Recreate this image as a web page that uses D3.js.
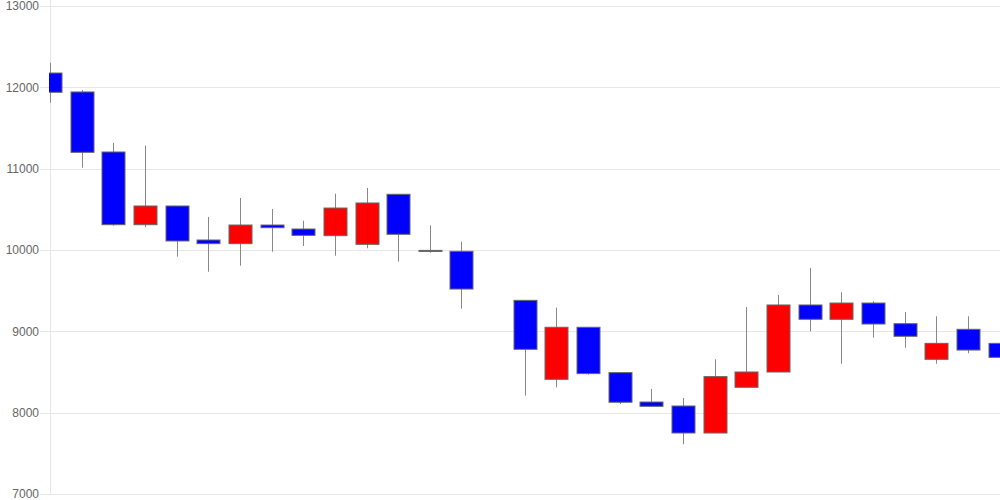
<!DOCTYPE html>
<html>
<head>
<meta charset="utf-8">
<script src="https://cdn.jsdelivr.net/npm/d3@7"></script>
<style>
html,body{margin:0;padding:0;background:#fff;}
svg{display:block;}
</style>
</head>
<body>
<svg id="chart" width="1000" height="500"></svg>
<script>
const days = ["D01","D02","D03","D04","D05","D06","D07","D08","D09","D10","D11","D12","D13","D14","D15","D16","D17","D18","D19","D20","D21","D22","D23","D24","D25","D26","D27","D28","D29","D30","D31"];
const opens  = [12176,11943,11205,10311,10541,10123,10078,10307,10258,10176,10070,10685,9995,9984,null,9381,8410,9050,8492,8131,8082,7750,8312,8500,9324,9148,9348,9094,8656,9025,8852];
const highs  = [12303,11967,11316,11282,10541,10406,10639,10504,10360,10692,10762,10685,10303,10102,null,9381,9291,9050,8492,8291,8180,8656,9299,9447,9779,9480,9369,9238,9185,9185,9016];
const lows   = [11811,11012,10299,10279,9918,9733,9807,9979,10049,9930,10021,9857,9967,9278,null,8209,8311,8467,8107,8078,7611,7750,8312,8500,9000,8602,8922,8799,8602,8730,8553];
const closes = [11939,11201,10311,10541,10111,10078,10307,10274,10180,10516,10578,10193,9988,9520,null,8779,9050,8480,8128,8078,7750,8443,8500,9324,9148,9348,9090,8939,8852,8770,8680];
const yTicks = [7000,8000,9000,10000,11000,12000,13000];

(function(){
const svg = d3.select("#chart");
const mLeft = 50, mRight = 1000, mTop = 6, mBottom = 494;

const x = d3.scalePoint().domain(days).range([50, 999.5]);
const y = d3.scaleLinear().domain([7000, 13000]).range([mBottom, mTop]);

const yAxis = d3.axisLeft(y).tickValues(yTicks).tickSize(-(mRight - mLeft + 10)).tickPadding(1).tickFormat(d3.format("d"));
const g = svg.append("g").attr("transform", `translate(${mLeft - 10},0)`).call(yAxis);
g.select(".domain").remove();
g.selectAll(".tick line").attr("stroke", "#e6e6e6").attr("stroke-width", 1).attr("shape-rendering","crispEdges");
g.selectAll(".tick text").attr("fill", "#666").attr("font-size", "12px").attr("font-family", "'Liberation Sans', Arial, Helvetica, sans-serif").attr("x", -1);

svg.append("line").attr("x1", mLeft + 0.5).attr("x2", mLeft + 0.5).attr("y1", 0).attr("y2", mBottom)
  .attr("stroke", "#e6e6e6");

svg.append("clipPath").attr("id", "clip").append("rect")
  .attr("x", mLeft - 1).attr("y", 0).attr("width", mRight - mLeft + 1).attr("height", 500);

const data = days.map((d, i) => ({d, o: opens[i], h: highs[i], l: lows[i], c: closes[i]})).filter(e => e.o != null);
const plot = svg.append("g").attr("clip-path", "url(#clip)");
const bw = 23;

plot.selectAll("line.wick").data(data).join("line").attr("class","wick")
  .attr("x1", e => Math.round(x(e.d)) + 0.5).attr("x2", e => Math.round(x(e.d)) + 0.5)
  .attr("y1", e => y(e.h)).attr("y2", e => y(e.l))
  .attr("stroke", "#888").attr("stroke-width", 1);

plot.selectAll("rect.body").data(data).join("rect").attr("class","body")
  .attr("x", e => Math.round(x(e.d)) - bw / 2 + 0.5)
  .attr("width", bw)
  .attr("y", e => y(Math.max(e.o, e.c)))
  .attr("height", e => Math.max(1, y(Math.min(e.o, e.c)) - y(Math.max(e.o, e.c))))
  .attr("fill", e => e.c > e.o ? "#ff0000" : "#0000ff")
  .attr("stroke", "#666").attr("stroke-width", 1);
})();
</script>
</body>
</html>
